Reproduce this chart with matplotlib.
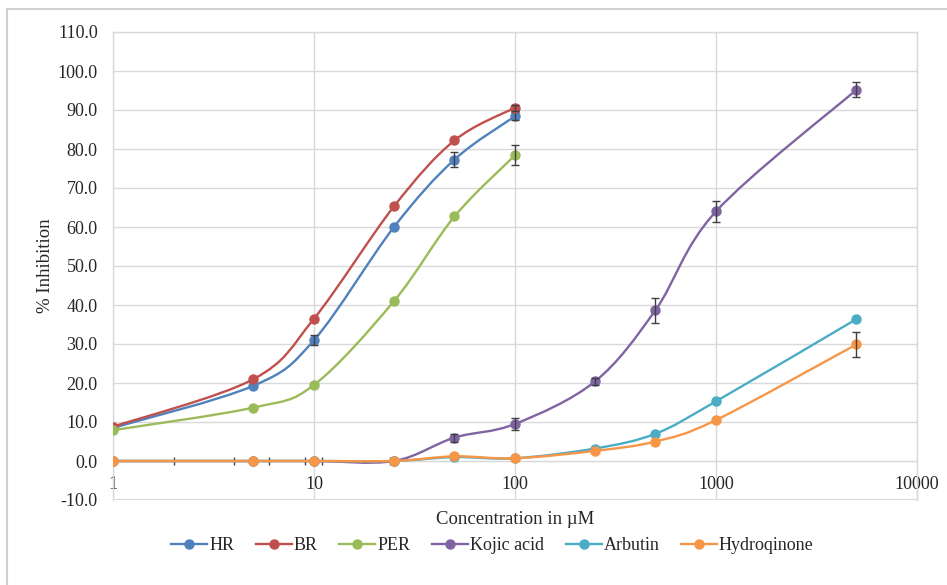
import numpy as np
import matplotlib
matplotlib.use("Agg")
import matplotlib.pyplot as plt
from matplotlib.path import Path
from matplotlib.patches import PathPatch, Rectangle
from matplotlib.lines import Line2D
from matplotlib.ticker import FixedLocator, FormatStrFormatter, NullLocator

plt.rcParams['font.family'] = ['Liberation Serif', 'DejaVu Serif']
plt.rcParams['axes.unicode_minus'] = False

# concentrations (uM)
conc_short = [1, 5, 10, 25, 50, 100]
conc_long = [1, 5, 10, 25, 50, 100, 250, 500, 1000, 5000]

hr = [8.5, 19.3, 31.0, 60.0, 77.3, 88.4]
hr_err = [0, 0, 1.2, 0, 2.0, 1.0]
br = [8.8, 21.0, 36.5, 65.3, 82.2, 90.6]
br_err = [0, 0, 0, 0, 0, 0.8]
per = [7.9, 13.7, 19.5, 41.0, 62.7, 78.4]
per_err = [0, 0, 0, 0, 0, 2.6]
kojic = [0, 0, 0, 0, 6.0, 9.5, 20.4, 38.7, 64.0, 95.2]
kojic_err = [0, 0, 0, 0, 1.0, 1.5, 1.0, 3.2, 2.6, 1.9]
arbutin = [0, 0, 0, 0, 1.0, 0.7, 3.2, 7.0, 15.3, 36.4]
arbutin_err = [0, 0, 0, 0, 0, 0, 0, 0, 0, 0]
hydroq = [0, 0, 0, 0, 1.2, 0.7, 2.6, 5.0, 10.5, 29.9]
hydroq_err = [0, 0, 0, 0, 0, 0, 0, 0, 0, 3.3]
hydroq_xerr = [1, 1, 1, 1, 1, 1, 1, 1, 1, 1]

labels = ["HR", "BR", "PER", "Kojic acid", "Arbutin", "Hydroqinone"]
colors = ["#4F81BD", "#C0504D", "#9BBB59", "#8064A2", "#4BACC6", "#F79646"]

y_ticks = np.arange(-10, 111, 10)
x_ticks = [1, 10, 100, 1000, 10000]
x_ticklabels = ["1", "10", "100", "1000", "10000"]


def smooth_path(ax, x, y):
    # Excel-like smoothed line: Catmull-Rom bezier built in display space
    pts = ax.transData.transform(np.column_stack([x, y]))
    n = len(pts)
    verts = [pts[0]]
    codes = [Path.MOVETO]
    for i in range(n - 1):
        p0 = pts[i - 1] if i > 0 else pts[i]
        p1, p2 = pts[i], pts[i + 1]
        p3 = pts[i + 2] if i + 2 < n else pts[i + 1]
        verts += [p1 + (p2 - p0) / 6.0, p2 - (p3 - p1) / 6.0, p2]
        codes += [Path.CURVE4] * 3
    verts = ax.transData.inverted().transform(np.array(verts))
    return Path(verts, codes)


fig = plt.figure(figsize=(9.47, 5.85), dpi=100)
ax = fig.add_axes([113 / 947, 1 - 500 / 585, 804 / 947, 468 / 585])
ax.set_xscale('log')
ax.set_xlim(1, 10000)
ax.set_ylim(-10, 110)

series = [
    (conc_short, hr, hr_err),
    (conc_short, br, br_err),
    (conc_short, per, per_err),
    (conc_long, kojic, kojic_err),
    (conc_long, arbutin, arbutin_err),
    (conc_long, hydroq, hydroq_err),
]

for k, (xs, ys, err) in enumerate(series):
    z = 3 + k
    ax.add_patch(PathPatch(smooth_path(ax, xs, ys), facecolor='none',
                           edgecolor=colors[k], lw=1.7, zorder=z))
    ax.plot(xs, ys, linestyle='none', marker='o', ms=6.5,
            color=colors[k], zorder=z + 0.1)
    err = np.asarray(err, float)
    m = err > 0
    if m.any():
        ax.errorbar(np.asarray(xs)[m], np.asarray(ys)[m], yerr=err[m],
                    fmt='none', ecolor='#404040', elinewidth=1.0,
                    capsize=3, capthick=1.0, zorder=z + 0.2)

# horizontal error bars on hydroquinone
hx = np.asarray(conc_long, float)
hxe = np.asarray(hydroq_xerr, float)
lo = np.where(hx - hxe > 0, hxe, 0)
ax.errorbar(hx, hydroq, xerr=[lo, hxe], fmt='none', ecolor='#404040',
            elinewidth=0.8, capsize=3, capthick=1.0, zorder=2.5)

# axes styling
grid_c = '#D9D9D9'
ax.yaxis.set_major_locator(FixedLocator(y_ticks))
ax.yaxis.set_major_formatter(FormatStrFormatter('%.1f'))
ax.xaxis.set_major_locator(FixedLocator(x_ticks))
ax.xaxis.set_minor_locator(NullLocator())
ax.set_xticklabels(x_ticklabels)
ax.grid(True, which='major', color=grid_c, lw=1.0)
ax.set_axisbelow(True)
for s in ['top', 'right', 'left']:
    ax.spines[s].set_color(grid_c)
    ax.spines[s].set_linewidth(1.0)
ax.spines['bottom'].set_position(('data', 0))
ax.spines['bottom'].set_color(grid_c)
ax.axhline(-10, color=grid_c, lw=1.5, zorder=1)
ax.tick_params(axis='both', length=0, labelsize=13, colors='#262626')
ax.tick_params(axis='x', pad=11)
ax.tick_params(axis='y', pad=11)

ax.set_xlabel("Concentration in µM", fontsize=13.5, color='#262626')
ax.xaxis.set_label_coords(0.5, -0.024)
ax.set_ylabel("% Inhibition", fontsize=13.5, color='#262626')
ax.yaxis.set_label_coords(-0.074, 0.5)

handles = [Line2D([], [], color=c, lw=1.7, marker='o', ms=6.5) for c in colors]
fig.legend(handles, labels, loc='center', bbox_to_anchor=(0.52, 1 - 546 / 585),
           ncol=6, frameon=False, fontsize=13, handlelength=2.0,
           handletextpad=0.1, columnspacing=1.2, labelcolor='#262626')

# outer chart border
fig.patches.append(Rectangle((7 / 947, -0.1), 1.2, 1.1 - 9 / 585,
                             transform=fig.transFigure, fill=False,
                             edgecolor='#D0D0D0', lw=1.5, clip_on=False))

fig.savefig("out.png", dpi=100)
